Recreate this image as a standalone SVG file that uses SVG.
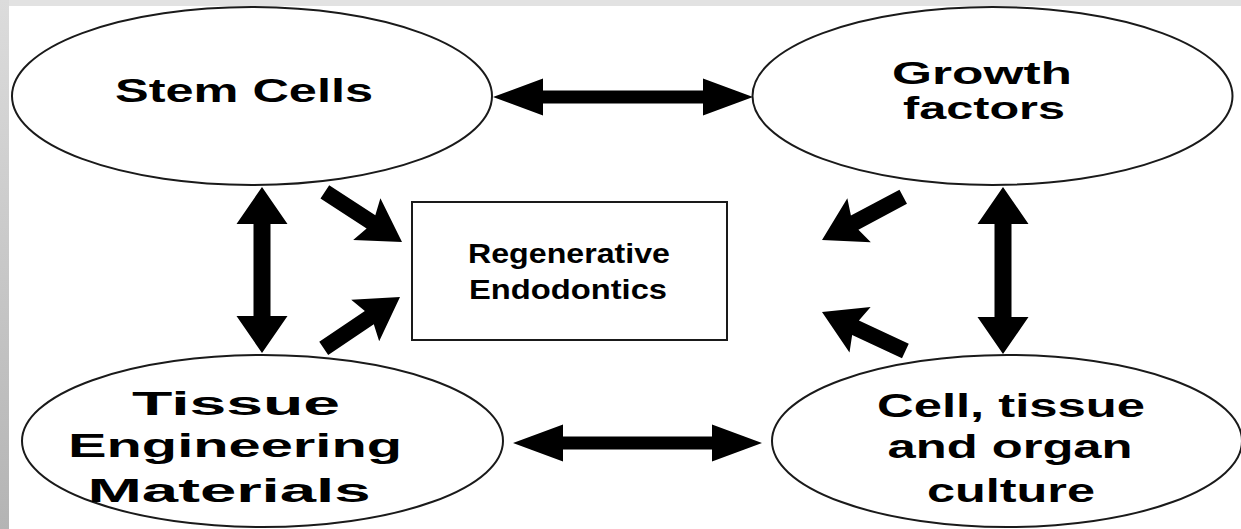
<svg xmlns="http://www.w3.org/2000/svg" width="1241" height="529" viewBox="0 0 1241 529">
<defs>
<linearGradient id="lg" x1="0" y1="0" x2="0" y2="1">
<stop offset="0" stop-color="#dcdcdc"/>
<stop offset="1" stop-color="#b4b4b4"/>
</linearGradient>
<polygon id="diag" points="0,0 -42,-25 -37,-8 -92,-8 -92,8 -37,8 -42,25"/>
</defs>
<style>
.node ellipse,.node rect{fill:#fff;stroke:#1a1a1a;stroke-width:2}
.lbl{font-family:"Liberation Sans",Arial,sans-serif;font-weight:bold;font-size:34px;fill:#000;text-anchor:middle}
.mid{font-size:31px}
.small{font-size:28px}
.arr{fill:#000}
</style>
<rect x="0" y="0" width="1241" height="529" fill="#fff"/>
<rect x="0" y="0" width="1241" height="6" fill="#e2e2e2"/>
<rect x="0" y="0" width="9" height="529" fill="url(#lg)"/>

<g id="stem-cells" class="node">
<ellipse cx="252" cy="96" rx="240" ry="89"/>
<text class="lbl" x="244" y="102" textLength="258" lengthAdjust="spacingAndGlyphs">Stem Cells</text>
</g>
<g id="growth-factors" class="node">
<ellipse cx="992.5" cy="96" rx="240" ry="89"/>
<text class="lbl mid" x="982" y="84" textLength="180" lengthAdjust="spacingAndGlyphs">Growth</text>
<text class="lbl mid" x="984" y="119" textLength="162" lengthAdjust="spacingAndGlyphs">factors</text>
</g>
<g id="tissue-engineering" class="node">
<ellipse cx="262.5" cy="441" rx="240.5" ry="86"/>
<text class="lbl" x="236" y="415" textLength="208" lengthAdjust="spacingAndGlyphs">Tissue</text>
<text class="lbl" x="235" y="457" textLength="334" lengthAdjust="spacingAndGlyphs">Engineering</text>
<text class="lbl" x="229" y="502" textLength="283" lengthAdjust="spacingAndGlyphs">Materials</text>
</g>
<g id="cell-culture" class="node">
<ellipse cx="1007" cy="441" rx="235" ry="86"/>
<text class="lbl" x="1011" y="417" textLength="268" lengthAdjust="spacingAndGlyphs">Cell, tissue</text>
<text class="lbl" x="1010" y="458" textLength="245" lengthAdjust="spacingAndGlyphs">and organ</text>
<text class="lbl" x="1011" y="502" textLength="168" lengthAdjust="spacingAndGlyphs">culture</text>
</g>
<g id="regenerative-endodontics" class="node">
<rect x="412" y="202" width="315" height="138"/>
<text class="lbl small" x="569" y="263" textLength="202" lengthAdjust="spacingAndGlyphs">Regenerative</text>
<text class="lbl small" x="568" y="299" textLength="198" lengthAdjust="spacingAndGlyphs">Endodontics</text>
</g>

<g id="connectors" class="arr">
<polygon points="493,97 543,78.5 543,90.5 703,90.5 703,78.5 753,97 703,115.5 703,103.5 543,103.5 543,115.5"/>
<polygon points="513,443 563,424.5 563,436.5 712,436.5 712,424.5 762,443 712,461.5 712,449.5 563,449.5 563,461.5"/>
<polygon points="262,187 287.5,224 270.5,224 270.5,316 287.5,316 262,353 236.5,316 253.5,316 253.5,224 236.5,224"/>
<polygon points="1003,187 1028.5,224 1011.5,224 1011.5,317 1028.5,317 1003,354 977.5,317 994.5,317 994.5,224 977.5,224"/>
<use href="#diag" transform="translate(402,242) rotate(33)"/>
<use href="#diag" transform="translate(400,297) rotate(-34)"/>
<use href="#diag" transform="translate(822,240) rotate(152)"/>
<use href="#diag" transform="translate(822,312) rotate(205)"/>
</g>
</svg>
